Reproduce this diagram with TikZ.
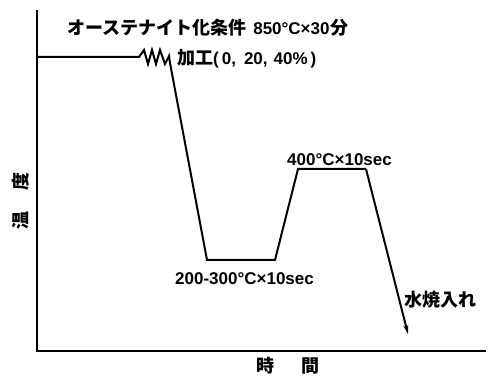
\documentclass[tikz,border=0pt]{standalone}
\usepackage{fontspec}
\newfontfamily\jp{Noto Sans CJK JP}
\newfontfamily\lat{Liberation Sans}
\usetikzlibrary{arrows.meta}
\newcommand\J[1]{{\jp\bfseries\fontsize{18}{18}\selectfont #1}}
\newcommand\La[1]{{\lat\bfseries\fontsize{17}{17}\selectfont #1}}
\begin{document}
\begin{tikzpicture}[x=1pt,y=-1pt,
  curve/.style={line width=2pt,line join=miter},
  axis/.style={line width=2.5pt},
  lbl/.style={inner sep=0pt,anchor=base west}]
\useasboundingbox (0,0) rectangle (491,377);
% axes
\coordinate (top) at (37,10);
\coordinate (origin) at (37,351);
\coordinate (xend) at (486,351);
\draw[axis] (top) -- (origin) -- (xend);
% curve
\coordinate (s) at (37,57);
\coordinate (z0) at (135,57);
\coordinate (d0) at (170,63);
\coordinate (b1) at (207,260);
\coordinate (b2) at (275,260);
\coordinate (u1) at (298,169);
\coordinate (u2) at (366,169);
\coordinate (e) at (408,334);
\draw[curve] (s) -- (z0) -- (139,57) -- (144,50) -- (148,64) -- (152,50) -- (156,64) -- (160,50) -- (165,64) -- (169,56) -- (d0) -- (b1) -- (b2) -- (u1) -- (u2);
\draw[curve,-{Stealth[length=9pt,width=5pt]}] (u2) -- (e);
% labels
\node[lbl] (t1) at (67,35) {\J{オーステナイト化条件}\hspace{7pt}\La{850°C×30}\hspace{1pt}\J{分}};
\node[lbl] (t2) at (177,65) {\J{加工}\La{(\hspace{3pt}0,\hspace{8pt}20,\hspace{6pt}40\%\hspace{3pt})}};
\node[lbl] (t3) at (287,166) {\La{400°C×10sec}};
\node[lbl] (t4) at (175,285) {\La{200-300°C×10sec}};
\node[lbl] (t5) at (404,307) {\J{水焼入れ}};
\node[inner sep=0pt,anchor=center,rotate=90] (ylab) at (21,201) {\J{温\hspace{1.2em}度}};
\node[inner sep=0pt,anchor=center] (xlab) at (288,366) {\J{時\hspace{1.5em}間}};
\end{tikzpicture}
\end{document}
